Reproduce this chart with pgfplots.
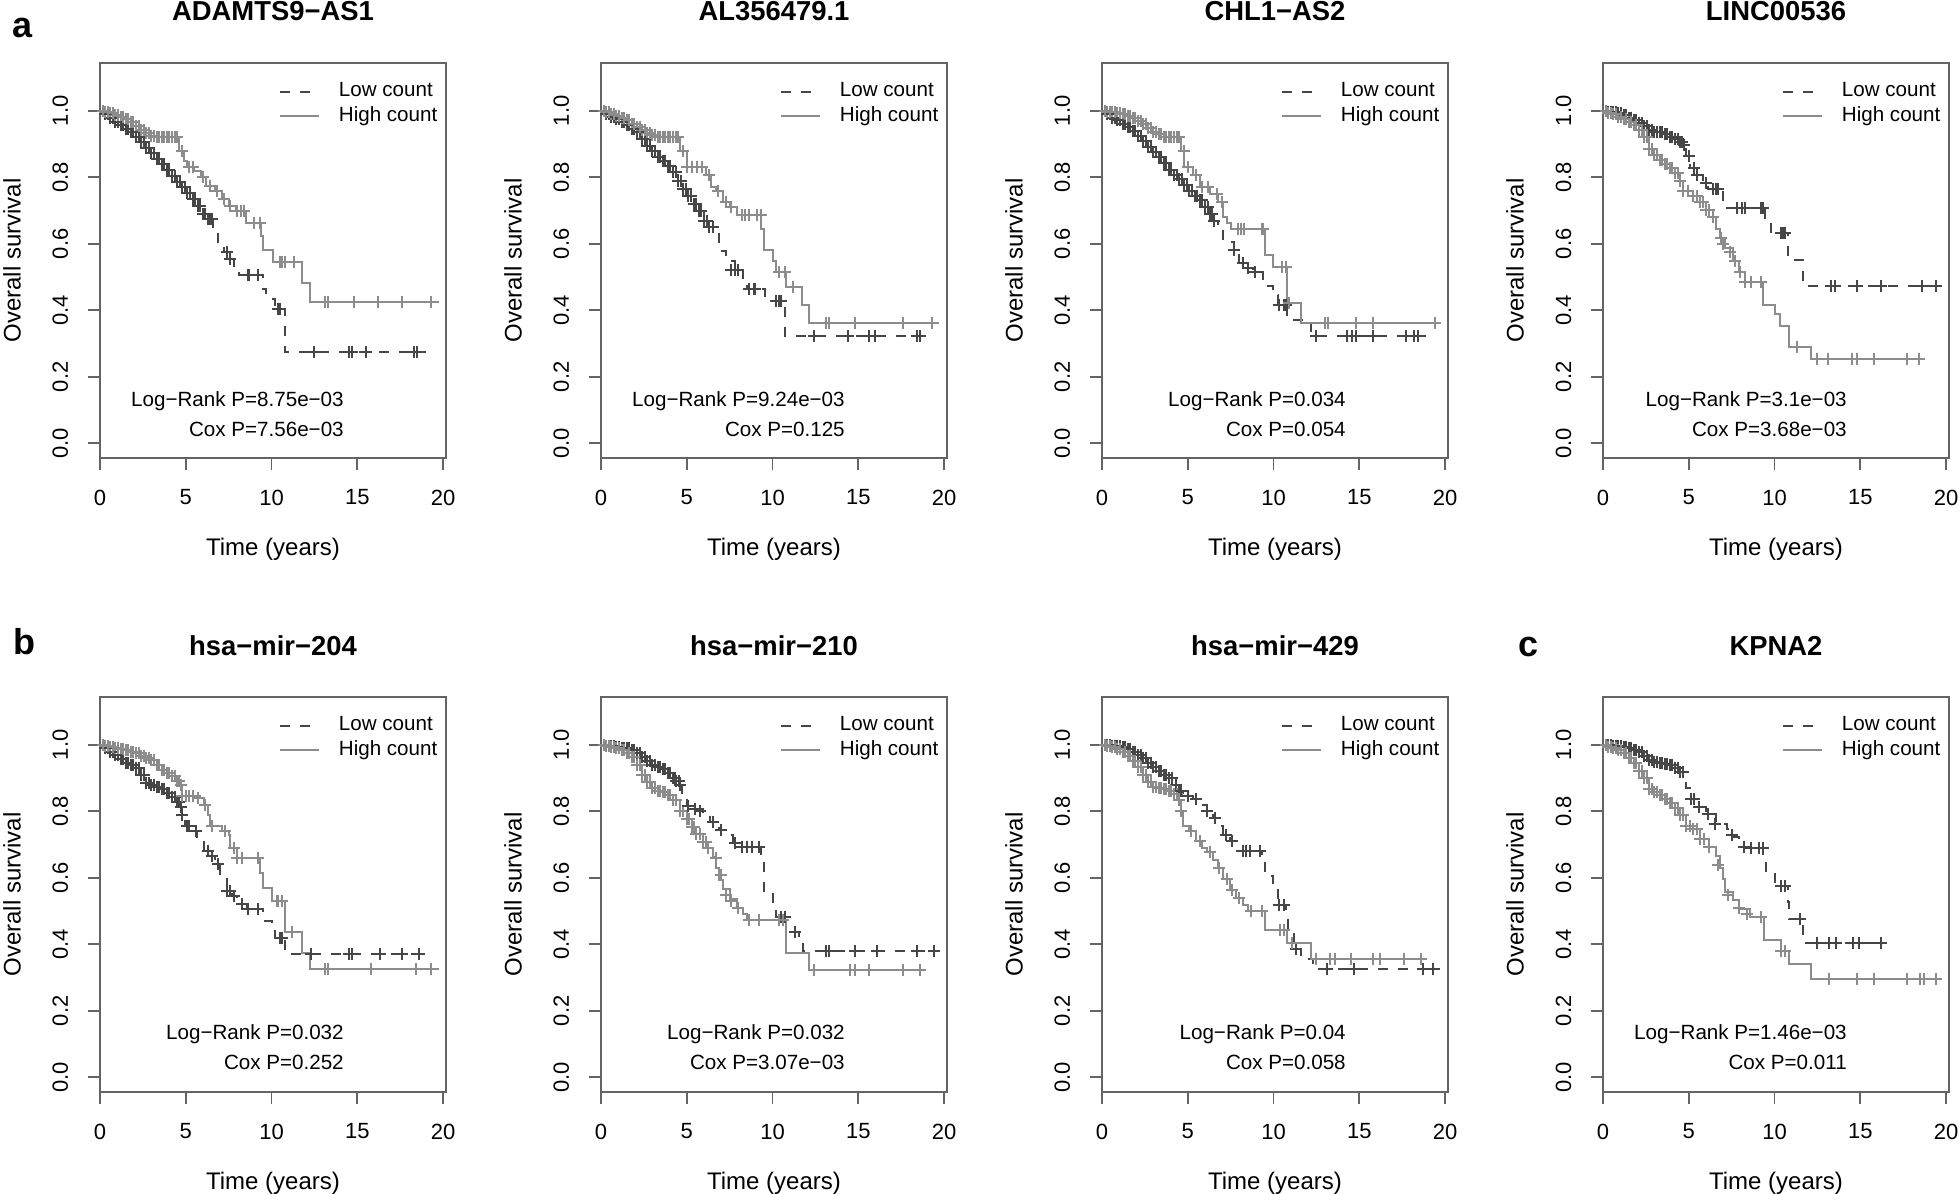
\documentclass[border=0pt]{standalone}
\usepackage{fontspec}
\setmainfont{Liberation Sans}
\usepackage{pgfplots}
\usepackage{pgfplotstable}
\pgfplotsset{compat=1.18}

\definecolor{darkg}{RGB}{70,70,70}
\definecolor{lightg}{RGB}{140,140,140}
\definecolor{boxgray}{RGB}{100,100,100}

% Kaplan-Meier step data: time (years), survival
\pgfplotstableread{
t s
0 1.0
0.3 0.99
0.6 0.98
0.9 0.968
1.2 0.958
1.5 0.945
1.8 0.935
2.1 0.92
2.4 0.905
2.7 0.888
3.0 0.872
3.3 0.855
3.6 0.84
3.9 0.822
4.2 0.805
4.5 0.785
4.8 0.77
5.1 0.752
5.4 0.735
5.7 0.715
6.0 0.69
6.3 0.675
6.6 0.646
6.9 0.60
7.2 0.575
7.5 0.555
7.8 0.527
8.1 0.505
9.5 0.463
9.7 0.434
10.2 0.405
10.8 0.274
19.0 0.274
}\ALow
\pgfplotstableread{
t s
0 1.0
0.3 0.997
0.6 0.993
0.9 0.988
1.2 0.982
1.5 0.975
1.8 0.966
2.1 0.955
2.4 0.943
2.7 0.932
3.0 0.925
3.3 0.92
3.6 0.92
3.9 0.92
4.2 0.92
4.6 0.88
4.9 0.85
5.1 0.83
5.5 0.82
5.9 0.80
6.2 0.775
6.7 0.76
7.1 0.735
7.5 0.715
7.9 0.70
8.5 0.663
9.4 0.623
9.5 0.583
10.1 0.545
11.8 0.483
12.25 0.424
19.75 0.424
}\AHigh
\pgfplotstableread{
t s
0 1.0
0.3 0.99
0.6 0.982
0.9 0.975
1.2 0.967
1.5 0.958
1.8 0.947
2.1 0.935
2.4 0.915
2.7 0.895
3.0 0.878
3.3 0.862
3.6 0.85
3.9 0.835
4.2 0.815
4.5 0.79
4.8 0.765
5.1 0.745
5.4 0.72
5.7 0.70
6.0 0.668
6.3 0.652
6.6 0.635
6.9 0.58
7.3 0.55
7.8 0.52
8.25 0.49
8.5 0.463
9.55 0.429
10.7 0.322
18.9 0.322
}\BLow
\pgfplotstableread{
t s
0 1.0
0.3 0.997
0.6 0.992
0.9 0.986
1.2 0.98
1.5 0.972
1.8 0.962
2.1 0.952
2.4 0.942
2.7 0.933
3.0 0.927
3.3 0.922
3.6 0.92
3.9 0.92
4.2 0.92
4.5 0.92
4.6 0.88
5.0 0.83
6.1 0.806
6.4 0.77
6.7 0.76
7.1 0.726
7.5 0.71
7.9 0.686
9.35 0.646
9.5 0.583
10.0 0.55
10.2 0.514
10.8 0.469
11.7 0.417
12.15 0.362
19.7 0.362
}\BHigh
\pgfplotstableread{
t s
0 1.0
0.3 0.99
0.6 0.98
0.9 0.972
1.2 0.962
1.5 0.952
1.8 0.94
2.1 0.925
2.4 0.908
2.7 0.892
3.0 0.877
3.3 0.86
3.6 0.842
3.9 0.823
4.2 0.808
4.5 0.794
4.8 0.778
5.1 0.76
5.4 0.745
5.7 0.731
6.0 0.71
6.3 0.69
6.5 0.669
6.75 0.646
7.05 0.606
7.7 0.583
8.0 0.543
8.4 0.526
8.8 0.514
9.4 0.474
9.96 0.446
10.25 0.417
10.8 0.371
12.2 0.322
18.9 0.322
}\CLow
\pgfplotstableread{
t s
0 1.0
0.3 0.998
0.6 0.996
0.9 0.994
1.2 0.99
1.5 0.986
1.8 0.98
2.1 0.97
2.4 0.96
2.7 0.948
3.0 0.937
3.3 0.93
3.6 0.922
3.9 0.92
4.2 0.92
4.5 0.92
4.6 0.88
4.8 0.83
5.3 0.806
5.7 0.77
6.3 0.749
6.75 0.726
7.05 0.68
7.3 0.663
7.5 0.646
9.48 0.566
9.96 0.531
10.8 0.423
11.6 0.363
19.67 0.363
}\CHigh
\pgfplotstableread{
t s
0 1.0
0.3 0.998
0.6 0.996
0.9 0.994
1.2 0.988
1.5 0.98
1.8 0.973
2.1 0.965
2.4 0.955
2.7 0.942
3.0 0.937
3.3 0.935
3.6 0.93
3.9 0.922
4.2 0.914
4.5 0.905
4.7 0.897
4.85 0.863
5.05 0.829
5.45 0.806
5.85 0.783
6.1 0.766
7.0 0.709
9.45 0.66
9.8 0.632
10.8 0.551
11.65 0.474
19.7 0.474
}\DLow
\pgfplotstableread{
t s
0 1.0
0.3 0.995
0.6 0.99
0.9 0.983
1.2 0.975
1.5 0.966
1.8 0.957
2.1 0.943
2.4 0.92
2.7 0.886
3.0 0.868
3.3 0.851
3.6 0.84
3.9 0.829
4.2 0.812
4.5 0.79
4.65 0.76
5.25 0.743
5.65 0.726
6.0 0.703
6.4 0.68
6.6 0.646
6.8 0.617
7.1 0.589
7.6 0.549
7.95 0.514
8.25 0.486
9.35 0.417
10.0 0.389
10.3 0.354
10.85 0.289
12.1 0.254
18.7 0.254
}\DHigh
\pgfplotstableread{
t s
0 1.0
0.3 0.99
0.6 0.98
0.9 0.97
1.2 0.958
1.5 0.947
1.8 0.94
2.1 0.93
2.4 0.91
2.7 0.885
3.0 0.878
3.3 0.873
3.6 0.866
3.9 0.855
4.2 0.843
4.5 0.828
4.7 0.814
4.8 0.79
4.95 0.757
5.25 0.74
5.65 0.722
6.05 0.682
6.4 0.665
6.7 0.642
7.0 0.597
7.4 0.562
7.7 0.545
8.0 0.522
8.55 0.505
9.5 0.471
10.0 0.448
10.2 0.42
10.8 0.37
19.0 0.37
}\ELow
\pgfplotstableread{
t s
0 1.0
0.3 0.998
0.6 0.995
0.9 0.99
1.2 0.988
1.5 0.985
1.8 0.98
2.1 0.975
2.4 0.968
2.7 0.962
3.0 0.955
3.3 0.94
3.6 0.925
3.9 0.915
4.2 0.905
4.5 0.892
4.7 0.88
4.8 0.846
5.85 0.84
6.05 0.82
6.3 0.79
6.4 0.757
7.1 0.74
7.5 0.73
7.6 0.69
8.0 0.66
9.35 0.614
9.5 0.571
10.0 0.531
10.8 0.437
11.8 0.374
12.25 0.326
19.75 0.326
}\EHigh
\pgfplotstableread{
t s
0 1.0
0.3 0.998
0.6 0.996
0.9 0.994
1.2 0.992
1.5 0.99
1.8 0.985
2.1 0.975
2.4 0.963
2.7 0.952
3.0 0.94
3.3 0.933
3.6 0.926
3.9 0.915
4.2 0.9
4.4 0.891
4.7 0.846
5.0 0.817
5.4 0.808
5.95 0.791
6.35 0.768
6.9 0.745
7.3 0.728
7.7 0.705
8.1 0.694
9.35 0.654
9.5 0.554
10.0 0.517
10.2 0.483
10.8 0.437
11.55 0.408
11.75 0.379
19.6 0.379
}\FLow
\pgfplotstableread{
t s
0 1.0
0.3 0.997
0.6 0.993
0.9 0.99
1.2 0.986
1.5 0.975
1.8 0.963
2.1 0.94
2.4 0.91
2.7 0.888
3.0 0.87
3.3 0.862
3.6 0.857
3.9 0.848
4.2 0.834
4.6 0.80
5.0 0.777
5.3 0.754
5.55 0.731
5.95 0.709
6.25 0.691
6.5 0.663
6.7 0.629
6.9 0.594
7.1 0.566
7.5 0.537
7.9 0.509
8.3 0.491
8.5 0.474
10.8 0.374
12.15 0.322
18.85 0.322
}\FHigh
\pgfplotstableread{
t s
0 1.0
0.3 0.999
0.6 0.998
0.9 0.997
1.2 0.993
1.5 0.987
1.8 0.978
2.1 0.97
2.4 0.96
2.7 0.945
3.0 0.932
3.3 0.92
3.6 0.91
3.9 0.9
4.3 0.88
4.5 0.86
4.7 0.846
5.3 0.837
5.7 0.82
6.1 0.80
6.45 0.78
6.75 0.757
7.05 0.728
7.45 0.711
7.8 0.682
9.3 0.651
9.5 0.606
9.95 0.571
10.25 0.517
10.75 0.497
10.85 0.44
11.2 0.386
11.6 0.355
12.3 0.326
19.7 0.326
}\GLow
\pgfplotstableread{
t s
0 1.0
0.3 0.997
0.6 0.993
0.9 0.988
1.2 0.978
1.5 0.966
1.8 0.952
2.1 0.932
2.4 0.908
2.7 0.888
3.0 0.874
3.3 0.87
3.6 0.868
3.9 0.862
4.2 0.852
4.5 0.834
4.6 0.80
4.7 0.757
5.1 0.74
5.5 0.711
5.8 0.689
6.1 0.677
6.45 0.654
6.75 0.631
7.05 0.597
7.45 0.563
7.8 0.54
8.2 0.517
8.5 0.5
9.5 0.443
10.8 0.403
12.2 0.357
18.7 0.357
}\GHigh
\pgfplotstableread{
t s
0 1.0
0.3 0.999
0.6 0.998
0.9 0.997
1.2 0.993
1.5 0.99
1.8 0.986
2.1 0.978
2.4 0.966
2.7 0.955
3.0 0.95
3.3 0.946
3.6 0.942
3.9 0.94
4.2 0.93
4.5 0.917
4.85 0.871
5.05 0.837
5.65 0.814
6.0 0.791
6.6 0.763
7.2 0.746
7.55 0.722
7.95 0.694
8.35 0.689
9.3 0.654
9.5 0.617
10.0 0.577
10.8 0.528
10.85 0.477
11.65 0.403
16.5 0.403
}\HLow
\pgfplotstableread{
t s
0 1.0
0.3 0.995
0.6 0.99
0.9 0.985
1.2 0.975
1.5 0.962
1.8 0.945
2.1 0.92
2.4 0.9
2.7 0.868
3.0 0.858
3.3 0.848
3.6 0.837
3.9 0.825
4.2 0.81
4.5 0.79
4.85 0.757
5.25 0.746
5.65 0.717
6.2 0.694
6.6 0.666
6.8 0.631
7.0 0.597
7.1 0.557
7.55 0.534
7.95 0.505
8.55 0.483
9.4 0.414
10.4 0.38
10.85 0.34
12.1 0.297
19.7 0.297
}\HHigh

\pgfplotsset{
  km/.style={
    width=173pt, height=197.5pt, scale only axis,
    anchor=south west,
    xmin=0, xmax=20.17, ymin=-0.044, ymax=1.144,
    axis line style={boxgray, line width=0.9pt},
    tick style={boxgray, line width=0.9pt},
    major tick length=6.2pt, tick align=outside, tick pos=left,
    xtick={0,5,10,15,20}, xticklabels={0,5,10,15,20},
    ytick={0,0.2,0.4,0.6,0.8,1}, yticklabels={0.0,0.2,0.4,0.6,0.8,1.0},
    xticklabel style={font=\fontsize{11}{12}\selectfont, inner sep=0pt, anchor=north},
    yticklabel style={font=\fontsize{11}{12}\selectfont, inner sep=0pt, rotate=90, anchor=south},
    xticklabel shift=9.5pt, yticklabel shift=9.5pt,
    xlabel={Time (years)}, ylabel={Overall survival},
    xlabel style={at={(axis description cs:0.5,-0.231)}, anchor=center, font=\fontsize{12}{14}\selectfont},
    ylabel style={at={(axis description cs:-0.254,0.5)}, anchor=center, font=\fontsize{12}{14}\selectfont},
    title style={at={(axis description cs:0.5,1.100)}, anchor=center, font=\bfseries\fontsize{13.7}{15}\selectfont},
    legend cell align=left,
    legend image code/.code={\draw[##1] (0pt,0pt) -- (19.5pt,0pt);},
    legend style={at={(axis description cs:0.517,0.953)}, anchor=north west, draw=none, fill=none,
      inner sep=0pt, outer sep=0pt, row sep=2.35pt,
      nodes={inner sep=0pt, text height=7.6pt, text depth=2.4pt, anchor=west, font=\fontsize{10.3}{12}\selectfont},
      /tikz/every odd column/.append style={column sep=9.5pt}},
  },
  lowline/.style={const plot, draw=darkg, line width=1pt, dash pattern=on 5pt off 5pt, mark=none},
  highline/.style={const plot, draw=lightg, line width=1pt, mark=none},
  lowcens/.style={only marks, mark=+, mark size=3pt, draw=darkg, mark options={solid, line width=1pt}, forget plot},
  highcens/.style={only marks, mark=+, mark size=3pt, draw=lightg, mark options={solid, line width=1pt}, forget plot},
}
\tikzset{pval/.style={anchor=base east, inner sep=0pt, font=\fontsize{10.3}{12}\selectfont}}

\begin{document}
\begin{tikzpicture}
\useasboundingbox (0,0) rectangle (980pt,-597pt);

% panel letters
\node[font=\bfseries\fontsize{18}{20}\selectfont] at (11.5pt,-13.8pt) {a};
\node[font=\bfseries\fontsize{18}{20}\selectfont] at (12pt,-321pt) {b};
\node[font=\bfseries\fontsize{18}{20}\selectfont] at (764pt,-323.7pt) {c};

% ---- row a ----
\begin{axis}[km, at={(50pt,-229pt)}, title={ADAMTS9−AS1}]
\addplot[lowline] table {\ALow}; \addlegendentry{Low count}
\addplot[highline] table {\AHigh}; \addlegendentry{High count}
\addplot[lowcens, restrict x to domain=0.2:6.4] table {\ALow};
\addplot[highcens, restrict x to domain=0.2:4.5] table {\AHigh};
\addplot[lowcens] coordinates {(0.15,1.0)(0.45,0.99)(0.75,0.98)(1.05,0.968)(1.35,0.958)(1.65,0.945)(1.95,0.935)(2.25,0.92)(2.55,0.905)(2.85,0.888)(3.15,0.872)(3.45,0.855)(3.75,0.84)(4.05,0.822)(4.35,0.805)(4.65,0.785)(4.95,0.77)(5.25,0.752)(5.55,0.735)(5.85,0.715)(6.15,0.69)};
\addplot[highcens] coordinates {(0.15,1.0)(0.45,0.997)(0.75,0.993)(1.05,0.988)(1.35,0.982)(1.65,0.975)(1.95,0.966)(2.25,0.955)(2.55,0.943)(2.85,0.932)(3.15,0.925)(3.45,0.92)(3.75,0.92)(4.05,0.92)(4.35,0.92)(4.5,0.92)};
\addplot[lowcens] coordinates {(6.4,0.675)(6.5,0.675)(7.4,0.575)(7.6,0.555)(8.6,0.505)(8.7,0.505)(9.2,0.505)(10.4,0.405)(10.5,0.405)(12.5,0.274)(14.5,0.274)(14.7,0.274)(15.5,0.274)(18.3,0.274)(18.5,0.274)};
\addplot[highcens] coordinates {(4.8,0.88)(5.2,0.83)(5.4,0.83)(6.0,0.80)(6.4,0.775)(6.8,0.76)(7.2,0.735)(7.6,0.715)(8.0,0.70)(8.2,0.70)(8.4,0.70)(9.0,0.663)(9.3,0.663)(10.5,0.545)(10.6,0.545)(10.8,0.545)(11.3,0.545)(13.1,0.424)(13.3,0.424)(14.8,0.424)(16.2,0.424)(17.6,0.424)(19.3,0.424)};
\node[pval] at (axis cs:14.23,0.112) {Log−Rank P=8.75e−03};
\node[pval] at (axis cs:14.23,0.022) {Cox P=7.56e−03};
\end{axis}

\begin{axis}[km, at={(300.5pt,-229pt)}, title={AL356479.1}]
\addplot[lowline] table {\BLow}; \addlegendentry{Low count}
\addplot[highline] table {\BHigh}; \addlegendentry{High count}
\addplot[lowcens, restrict x to domain=0.2:6.4] table {\BLow};
\addplot[highcens, restrict x to domain=0.2:4.5] table {\BHigh};
\addplot[lowcens] coordinates {(0.15,1.0)(0.45,0.99)(0.75,0.982)(1.05,0.975)(1.35,0.967)(1.65,0.958)(1.95,0.947)(2.25,0.935)(2.55,0.915)(2.85,0.895)(3.15,0.878)(3.45,0.862)(3.75,0.85)(4.05,0.835)(4.35,0.815)(4.65,0.79)(4.95,0.765)(5.25,0.745)(5.55,0.72)(5.85,0.70)(6.15,0.668)};
\addplot[highcens] coordinates {(0.15,1.0)(0.45,0.997)(0.75,0.992)(1.05,0.986)(1.35,0.98)(1.65,0.972)(1.95,0.962)(2.25,0.952)(2.55,0.942)(2.85,0.933)(3.15,0.927)(3.45,0.922)(3.75,0.92)(4.05,0.92)(4.35,0.92)};
\addplot[lowcens] coordinates {(6.5,0.652)(7.6,0.52)(7.8,0.52)(8.0,0.52)(8.6,0.463)(8.9,0.463)(9.0,0.463)(10.2,0.429)(10.4,0.429)(10.5,0.429)(12.4,0.322)(14.4,0.322)(15.6,0.322)(16.0,0.322)(18.4,0.322)(18.6,0.322)};
\addplot[highcens] coordinates {(4.8,0.88)(5.0,0.83)(5.3,0.83)(5.6,0.83)(5.9,0.83)(6.3,0.806)(6.8,0.76)(7.3,0.726)(7.6,0.71)(8.2,0.686)(8.4,0.686)(8.6,0.686)(9.1,0.686)(9.3,0.686)(10.4,0.514)(10.7,0.514)(11.2,0.469)(13.1,0.362)(13.3,0.362)(14.8,0.362)(17.6,0.362)(19.3,0.362)};
\node[pval] at (axis cs:14.23,0.112) {Log−Rank P=9.24e−03};
\node[pval] at (axis cs:14.23,0.022) {Cox P=0.125};
\end{axis}

\begin{axis}[km, at={(551pt,-229pt)}, title={CHL1−AS2}]
\addplot[lowline] table {\CLow}; \addlegendentry{Low count}
\addplot[highline] table {\CHigh}; \addlegendentry{High count}
\addplot[lowcens, restrict x to domain=0.2:6.6] table {\CLow};
\addplot[highcens, restrict x to domain=0.2:4.5] table {\CHigh};
\addplot[lowcens] coordinates {(0.15,1.0)(0.45,0.99)(0.75,0.98)(1.05,0.972)(1.35,0.962)(1.65,0.952)(1.95,0.94)(2.25,0.925)(2.55,0.908)(2.85,0.892)(3.15,0.877)(3.45,0.86)(3.75,0.842)(4.05,0.823)(4.35,0.808)(4.65,0.794)(4.95,0.778)(5.25,0.76)(5.55,0.745)(5.85,0.731)(6.15,0.71)(6.4,0.69)};
\addplot[highcens] coordinates {(0.15,1.0)(0.45,0.998)(0.75,0.996)(1.05,0.994)(1.35,0.99)(1.65,0.986)(1.95,0.98)(2.25,0.97)(2.55,0.96)(2.85,0.948)(3.15,0.937)(3.45,0.93)(3.75,0.922)(4.05,0.92)(4.35,0.92)};
\addplot[lowcens] coordinates {(7.7,0.583)(8.2,0.543)(8.5,0.526)(8.9,0.514)(10.3,0.417)(10.6,0.417)(10.7,0.417)(12.5,0.322)(14.3,0.322)(14.6,0.322)(14.8,0.322)(15.8,0.322)(17.7,0.322)(18.2,0.322)(18.4,0.322)};
\addplot[highcens] coordinates {(4.8,0.88)(5.0,0.83)(5.5,0.806)(5.8,0.77)(6.2,0.77)(6.7,0.749)(7.0,0.726)(7.9,0.646)(8.1,0.646)(8.3,0.646)(9.3,0.646)(9.4,0.646)(10.5,0.531)(10.7,0.531)(10.9,0.423)(13.0,0.363)(13.2,0.363)(14.8,0.363)(15.8,0.363)(19.4,0.363)};
\node[pval] at (axis cs:14.23,0.112) {Log−Rank P=0.034};
\node[pval] at (axis cs:14.23,0.022) {Cox P=0.054};
\end{axis}

\begin{axis}[km, at={(801.5pt,-229pt)}, title={LINC00536}]
\addplot[lowline] table {\DLow}; \addlegendentry{Low count}
\addplot[highline] table {\DHigh}; \addlegendentry{High count}
\addplot[lowcens, restrict x to domain=0.2:4.8] table {\DLow};
\addplot[highcens, restrict x to domain=0.2:6.5] table {\DHigh};
\addplot[lowcens] coordinates {(0.15,1.0)(0.45,0.998)(0.75,0.996)(1.05,0.994)(1.35,0.988)(1.65,0.98)(1.95,0.973)(2.25,0.965)(2.55,0.955)(2.85,0.942)(3.15,0.937)(3.45,0.935)(3.75,0.93)(4.05,0.922)(4.35,0.914)(4.6,0.905)};
\addplot[highcens] coordinates {(0.15,1.0)(0.45,0.995)(0.75,0.99)(1.05,0.983)(1.35,0.975)(1.65,0.966)(1.95,0.957)(2.25,0.943)(2.55,0.92)(2.85,0.886)(3.15,0.868)(3.45,0.851)(3.75,0.84)(4.05,0.829)(4.35,0.812)(4.95,0.76)(5.45,0.743)(5.8,0.726)(6.2,0.703)};
\addplot[lowcens] coordinates {(5.0,0.863)(5.3,0.829)(5.5,0.806)(6.0,0.783)(6.4,0.766)(6.6,0.766)(6.7,0.766)(7.8,0.709)(8.1,0.709)(8.3,0.709)(9.2,0.709)(9.3,0.709)(10.4,0.632)(10.5,0.632)(10.6,0.632)(13.3,0.474)(13.5,0.474)(14.8,0.474)(16.2,0.474)(18.6,0.474)(19.4,0.474)};
\addplot[highcens] coordinates {(6.9,0.617)(7.0,0.6)(7.4,0.575)(7.7,0.549)(8.0,0.514)(8.3,0.486)(8.6,0.486)(9.2,0.486)(11.3,0.289)(12.5,0.254)(13.1,0.254)(14.5,0.254)(14.8,0.254)(15.8,0.254)(17.7,0.254)(18.4,0.254)};
\node[pval] at (axis cs:14.23,0.112) {Log−Rank P=3.1e−03};
\node[pval] at (axis cs:14.23,0.022) {Cox P=3.68e−03};
\end{axis}

% ---- row b / c ----
\begin{axis}[km, at={(50pt,-546pt)}, title={hsa−mir−204}]
\addplot[lowline] table {\ELow}; \addlegendentry{Low count}
\addplot[highline] table {\EHigh}; \addlegendentry{High count}
\addplot[lowcens, restrict x to domain=0.2:4.8] table {\ELow};
\addplot[highcens, restrict x to domain=0.2:4.7] table {\EHigh};
\addplot[lowcens] coordinates {(0.15,1.0)(0.45,0.99)(0.75,0.98)(1.05,0.97)(1.35,0.958)(1.65,0.947)(1.95,0.94)(2.25,0.93)(2.55,0.91)(2.85,0.885)(3.15,0.878)(3.45,0.873)(3.75,0.866)(4.05,0.855)(4.35,0.843)(4.6,0.828)};
\addplot[highcens] coordinates {(0.15,1.0)(0.45,0.998)(0.75,0.995)(1.05,0.99)(1.35,0.988)(1.65,0.985)(1.95,0.98)(2.25,0.975)(2.55,0.968)(2.85,0.962)(3.15,0.955)(3.45,0.94)(3.75,0.925)(4.05,0.915)(4.35,0.905)(4.6,0.892)};
\addplot[lowcens] coordinates {(5.1,0.757)(5.2,0.757)(5.6,0.74)(6.3,0.682)(6.5,0.665)(6.9,0.642)(7.4,0.562)(7.6,0.562)(7.8,0.545)(8.3,0.522)(8.6,0.505)(9.2,0.505)(10.5,0.42)(10.6,0.42)(12.3,0.37)(14.5,0.37)(14.7,0.37)(16.3,0.37)(17.6,0.37)(18.6,0.37)};
\addplot[highcens] coordinates {(4.8,0.846)(5.0,0.846)(5.2,0.846)(5.4,0.846)(5.7,0.84)(6.1,0.82)(6.5,0.757)(7.3,0.74)(7.8,0.69)(8.0,0.66)(8.3,0.66)(9.2,0.66)(10.3,0.531)(10.4,0.531)(10.6,0.531)(11.2,0.437)(13.1,0.326)(13.3,0.326)(15.8,0.326)(18.4,0.326)(19.3,0.326)};
\node[pval] at (axis cs:14.23,0.113) {Log−Rank P=0.032};
\node[pval] at (axis cs:14.23,0.024) {Cox P=0.252};
\end{axis}

\begin{axis}[km, at={(300.5pt,-546pt)}, title={hsa−mir−210}]
\addplot[lowline] table {\FLow}; \addlegendentry{Low count}
\addplot[highline] table {\FHigh}; \addlegendentry{High count}
\addplot[lowcens, restrict x to domain=0.2:4.6] table {\FLow};
\addplot[highcens, restrict x to domain=0.2:6.4] table {\FHigh};
\addplot[lowcens] coordinates {(0.15,1.0)(0.45,0.998)(0.75,0.996)(1.05,0.994)(1.35,0.992)(1.65,0.99)(1.95,0.985)(2.25,0.975)(2.55,0.963)(2.85,0.952)(3.15,0.94)(3.45,0.933)(3.75,0.926)(4.05,0.915)(4.3,0.9)(4.55,0.891)};
\addplot[highcens] coordinates {(0.15,1.0)(0.45,0.997)(0.75,0.993)(1.05,0.99)(1.35,0.986)(1.65,0.975)(1.95,0.963)(2.25,0.94)(2.55,0.91)(2.85,0.888)(3.15,0.87)(3.45,0.862)(3.75,0.857)(4.05,0.848)(4.4,0.834)(4.8,0.80)(5.15,0.777)(5.45,0.754)(5.75,0.731)(6.1,0.709)};
\addplot[lowcens] coordinates {(4.6,0.88)(5.1,0.817)(5.5,0.808)(5.8,0.80)(6.5,0.768)(7.0,0.745)(7.8,0.705)(8.2,0.694)(8.5,0.694)(8.8,0.694)(9.2,0.694)(10.5,0.483)(10.7,0.483)(11.3,0.437)(13.1,0.379)(13.3,0.379)(14.8,0.379)(16.1,0.379)(18.4,0.379)(19.4,0.379)};
\addplot[highcens] coordinates {(6.7,0.66)(7.0,0.61)(7.3,0.55)(7.6,0.53)(8.0,0.509)(8.6,0.474)(9.2,0.474)(10.4,0.474)(10.6,0.474)(12.4,0.322)(14.5,0.322)(14.8,0.322)(15.6,0.322)(17.6,0.322)(18.6,0.322)};
\node[pval] at (axis cs:14.23,0.113) {Log−Rank P=0.032};
\node[pval] at (axis cs:14.23,0.024) {Cox P=3.07e−03};
\end{axis}

\begin{axis}[km, at={(551pt,-546pt)}, title={hsa−mir−429}]
\addplot[lowline] table {\GLow}; \addlegendentry{Low count}
\addplot[highline] table {\GHigh}; \addlegendentry{High count}
\addplot[lowcens, restrict x to domain=0.2:4.5] table {\GLow};
\addplot[highcens, restrict x to domain=0.2:4.6] table {\GHigh};
\addplot[lowcens] coordinates {(0.15,1.0)(0.45,0.999)(0.75,0.998)(1.05,0.997)(1.35,0.993)(1.65,0.987)(1.95,0.978)(2.25,0.97)(2.55,0.96)(2.85,0.945)(3.15,0.932)(3.45,0.92)(3.75,0.91)(4.1,0.9)};
\addplot[highcens] coordinates {(0.15,1.0)(0.45,0.997)(0.75,0.993)(1.05,0.988)(1.35,0.978)(1.65,0.966)(1.95,0.952)(2.25,0.932)(2.55,0.908)(2.85,0.888)(3.15,0.874)(3.45,0.87)(3.75,0.868)(4.05,0.862)(4.35,0.852)};
\addplot[lowcens] coordinates {(4.6,0.86)(5.0,0.846)(5.5,0.837)(6.1,0.80)(6.6,0.78)(7.2,0.728)(7.6,0.711)(8.2,0.682)(8.4,0.682)(8.6,0.682)(9.2,0.682)(10.3,0.517)(10.6,0.517)(11.3,0.386)(13.1,0.326)(14.7,0.326)(18.7,0.326)(19.3,0.326)};
\addplot[highcens] coordinates {(5.2,0.74)(5.7,0.711)(6.3,0.677)(6.8,0.631)(7.3,0.597)(7.6,0.563)(8.0,0.54)(8.7,0.5)(9.3,0.5)(10.4,0.443)(10.6,0.443)(11.1,0.403)(12.5,0.357)(13.3,0.357)(13.6,0.357)(14.5,0.357)(15.8,0.357)(16.2,0.357)(17.6,0.357)(18.6,0.357)};
\node[pval] at (axis cs:14.23,0.113) {Log−Rank P=0.04};
\node[pval] at (axis cs:14.23,0.024) {Cox P=0.058};
\end{axis}

\begin{axis}[km, at={(801.5pt,-546pt)}, title={KPNA2}]
\addplot[lowline] table {\HLow}; \addlegendentry{Low count}
\addplot[highline] table {\HHigh}; \addlegendentry{High count}
\addplot[lowcens, restrict x to domain=0.2:4.8] table {\HLow};
\addplot[highcens, restrict x to domain=0.2:6.4] table {\HHigh};
\addplot[lowcens] coordinates {(0.15,1.0)(0.45,0.999)(0.75,0.998)(1.05,0.997)(1.35,0.993)(1.65,0.99)(1.95,0.986)(2.25,0.978)(2.55,0.966)(2.85,0.955)(3.15,0.95)(3.45,0.946)(3.75,0.942)(4.05,0.94)(4.35,0.93)(4.65,0.917)};
\addplot[highcens] coordinates {(0.15,1.0)(0.45,0.995)(0.75,0.99)(1.05,0.985)(1.35,0.975)(1.65,0.962)(1.95,0.945)(2.25,0.92)(2.55,0.9)(2.85,0.868)(3.15,0.858)(3.45,0.848)(3.75,0.837)(4.05,0.825)(4.35,0.81)(4.65,0.79)(5.05,0.757)(5.45,0.746)(5.9,0.717)};
\addplot[lowcens] coordinates {(5.1,0.837)(5.3,0.837)(5.6,0.814)(6.1,0.791)(6.5,0.763)(7.5,0.73)(8.2,0.694)(8.6,0.689)(9.1,0.689)(9.3,0.689)(10.4,0.577)(10.6,0.577)(11.5,0.477)(12.5,0.403)(13.2,0.403)(13.6,0.403)(14.6,0.403)(14.9,0.403)(16.2,0.403)};
\addplot[highcens] coordinates {(6.7,0.64)(7.3,0.55)(7.9,0.51)(8.4,0.49)(9.2,0.483)(10.4,0.38)(10.6,0.38)(13.2,0.297)(14.8,0.297)(15.8,0.297)(17.7,0.297)(18.5,0.297)(18.7,0.297)(19.4,0.297)};
\node[pval] at (axis cs:14.23,0.113) {Log−Rank P=1.46e−03};
\node[pval] at (axis cs:14.23,0.024) {Cox P=0.011};
\end{axis}
\end{tikzpicture}
\end{document}
